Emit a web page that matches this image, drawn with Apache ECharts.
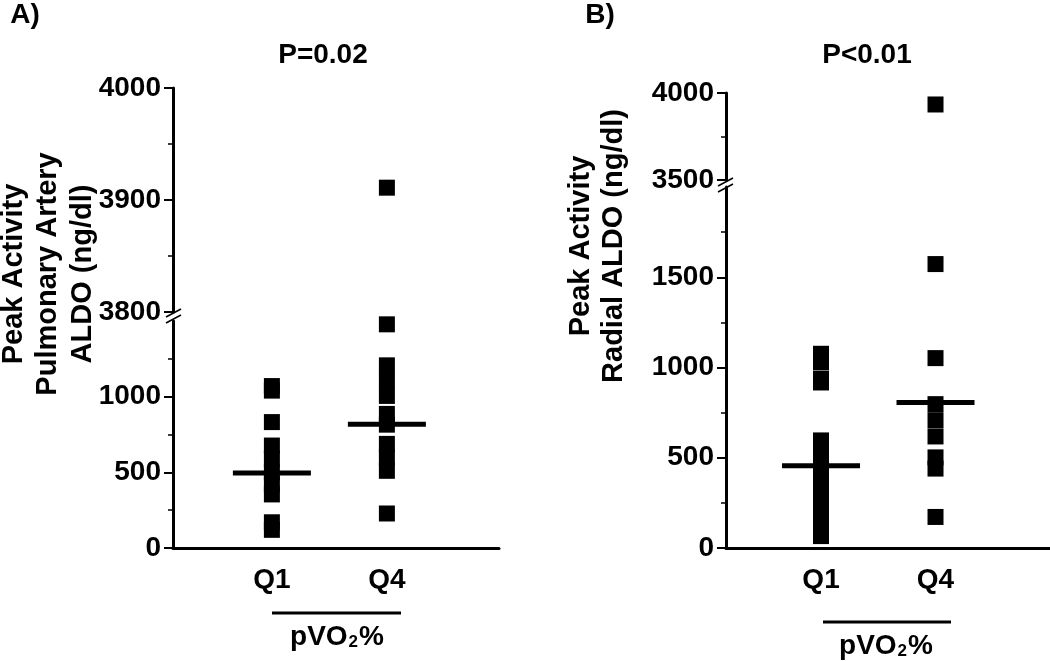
<!DOCTYPE html>
<html>
<head>
<meta charset="utf-8">
<script src="https://cdn.jsdelivr.net/npm/echarts@6/dist/echarts.min.js"></script>
<style>html,body{margin:0;padding:0;background:#fff;}#c{width:1050px;height:661px;}</style>
</head>
<body>
<div id="c"></div>
<script>
// ---- data ----
const categories = ['Q1', 'Q4'];
const panelA_Q1 = [1070, 1040, 832, 677, 590, 500, 420, 354, 170, 120];
const panelA_Q4 = [3911, 1478, 1207, 1106, 1005, 886, 815, 688, 599, 510, 228];
const panelA_means = [495, 818];
const panelB_Q1 = [1076, 1028, 937, 917, 596, 545, 480, 420, 360, 300, 240, 180, 107, 66];
const panelB_Q4 = [3934, 1573, 1052, 797, 708, 618, 502, 440, 172];
const panelB_means = [456, 806];
const ticksA_lower = [0, 500, 1000];
const ticksA_upper = [3800, 3900, 4000];
const ticksB_lower = [0, 500, 1000, 1500];
const ticksB_upper = [3500, 4000];
const titleA = 'P=0.02';
const titleB = 'P<0.01';

const FONT = "'Liberation Sans', Arial, sans-serif";
const chart = echarts.init(document.getElementById('c'), null, {renderer: 'canvas'});

function yAxisDef(gridIndex, min, max, interval, ticks) {
  return {
    type: 'value', gridIndex, min, max, interval,
    axisLine: {show: true, lineStyle: {color: '#000', width: 3}},
    axisTick: {show: true, length: 9, lineStyle: {color: '#000', width: 2}, customValues: ticks},
    minorTick: {show: true, splitNumber: 2, length: 5, lineStyle: {color: '#000', width: 1.5}},
    axisLabel: {show: true, customValues: ticks, margin: 12, color: '#000',
      fontFamily: FONT, fontWeight: 'bold', fontSize: 28, formatter: v => String(v)},
    splitLine: {show: false}
  };
}
function xAxisDef(gridIndex, min, max, visible) {
  return {
    type: 'value', gridIndex, min, max, show: visible,
    axisLine: {show: visible, onZero: false, lineStyle: {color: '#000', width: 3}},
    axisTick: {show: false},
    axisLabel: {show: visible, customValues: [1, 2], margin: 18, color: '#000',
      fontFamily: FONT, fontWeight: 'bold', fontSize: 28,
      formatter: v => categories[Math.round(v) - 1] || ''},
    splitLine: {show: false}
  };
}
function pts(groups, filt) {
  const out = [];
  groups.forEach((g, i) => g.forEach(v => { if (filt(v)) out.push([i + 1, v]); }));
  return out;
}
function scatter(xi, yi, data) {
  return {type: 'scatter', xAxisIndex: xi, yAxisIndex: yi, data, symbol: 'rect',
    symbolSize: 16, itemStyle: {color: '#000', opacity: 1}, silent: true, animation: false};
}
function meanSeries(xi, yi, means) {
  return {type: 'scatter', xAxisIndex: xi, yAxisIndex: yi, data: means.map((m, i) => [i + 1, m]),
    symbol: 'rect', symbolSize: [78, 5], itemStyle: {color: '#000', opacity: 1},
    silent: true, animation: false, z: 3};
}

const grids = [
  {left: 173, width: 326, top: 321, height: 227}, // A lower
  {left: 173, width: 326, top: 88, height: 224},  // A upper
  {left: 726, width: 330, top: 187, height: 361}, // B lower
  {left: 726, width: 330, top: 93, height: 87}    // B upper
];

const xAxes = [
  xAxisDef(0, 0.14, 2.975, true),
  xAxisDef(1, 0.14, 2.975, false),
  xAxisDef(2, 0.17, 3.0, true),
  xAxisDef(3, 0.17, 3.0, false)
];
const yAxes = [
  yAxisDef(0, 0, 1500, 500, ticksA_lower),
  yAxisDef(1, 3800, 4000, 100, ticksA_upper),
  yAxisDef(2, 0, 2000, 500, ticksB_lower),
  yAxisDef(3, 3500, 4000, 500, ticksB_upper)
];

const series = [
  scatter(0, 0, pts([panelA_Q1, panelA_Q4], v => v <= 1500)),
  scatter(1, 1, pts([panelA_Q1, panelA_Q4], v => v >= 3800)),
  meanSeries(0, 0, panelA_means),
  scatter(2, 2, pts([panelB_Q1, panelB_Q4], v => v <= 2000)),
  scatter(3, 3, pts([panelB_Q1, panelB_Q4], v => v >= 3500)),
  meanSeries(2, 2, panelB_means)
];

const boldText = (x, y, text, size, rot) => ({
  type: 'text', x, y, rotation: rot || 0, silent: true,
  style: {text, fill: '#000', font: `bold ${size}px ${FONT}`, align: 'center', verticalAlign: 'middle'}
});
const pvo = (x, y) => ({
  type: 'text', x, y, silent: true,
  style: {text: '{a|pVO}{s|2}{a|%}', fill: '#000', align: 'center', verticalAlign: 'middle',
    rich: {
      a: {fontFamily: FONT, fontWeight: 'bold', fontSize: 28, lineHeight: 28, fill: '#000'},
      s: {fontFamily: FONT, fontWeight: 'bold', fontSize: 17, lineHeight: 12, fill: '#000',
        verticalAlign: 'bottom', padding: [0, 1, 0, 1]}
    }}
});
const seg = (x1, y1, x2, y2, w, color) => ({
  type: 'line', silent: true, shape: {x1, y1, x2, y2},
  style: {stroke: color || '#000', lineWidth: w}
});

const graphic = [
  boldText(25, 15, 'A)', 28),
  boldText(600, 15, 'B)', 28),
  boldText(14, 274, 'Peak Activity', 29, Math.PI / 2),
  boldText(48, 274, 'Pulmonary Artery', 29, Math.PI / 2),
  boldText(83, 274, 'ALDO (ng/dl)', 29, Math.PI / 2),
  boldText(581, 246, 'Peak Activity', 29, Math.PI / 2),
  boldText(614, 246, 'Radial ALDO (ng/dl)', 29, Math.PI / 2),
  seg(272, 613, 401, 613, 3),
  seg(823, 622, 951, 622, 3),
  pvo(337, 637),
  pvo(886, 646),
  // axis break marks
  seg(166, 317, 181, 309, 1.5),
  seg(166, 323, 181, 315, 1.5),
  seg(718, 186, 733, 178, 1.5),
  seg(718, 192, 733, 184, 1.5)
];

chart.setOption({
  backgroundColor: '#fff',
  animation: false,
  title: [
    {text: titleA, left: 318, top: 50, textAlign: 'center', textVerticalAlign: 'middle',
      textStyle: {fontFamily: FONT, fontWeight: 'bold', fontSize: 28, color: '#000'}},
    {text: titleB, left: 862, top: 50, textAlign: 'center', textVerticalAlign: 'middle',
      textStyle: {fontFamily: FONT, fontWeight: 'bold', fontSize: 28, color: '#000'}}
  ],
  grid: grids,
  xAxis: xAxes,
  yAxis: yAxes,
  series,
  graphic
});
</script>
</body>
</html>
